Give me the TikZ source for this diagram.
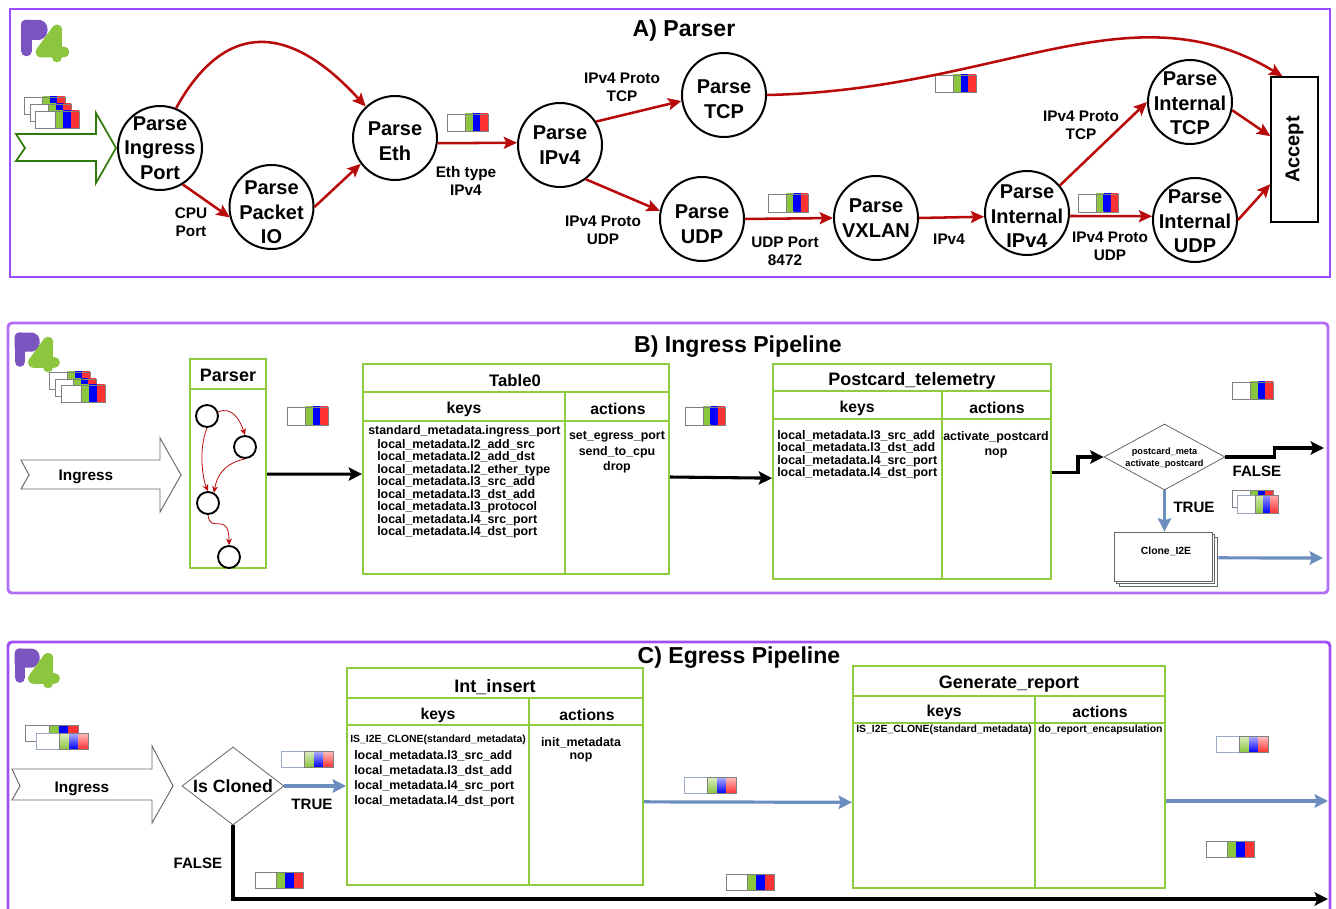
\documentclass[tikz,border=0pt]{standalone}
\usepackage{fontspec}
\setmainfont{Liberation Sans}
\usetikzlibrary{arrows.meta,fit,shapes.geometric,shadows}

\definecolor{panelA}{HTML}{9B4DFF}
\definecolor{panelB}{HTML}{B36EF5}
\definecolor{panelC}{HTML}{A050F5}
\definecolor{tblgreen}{HTML}{8FCB3F}
\definecolor{pktgreen}{HTML}{8CC63F}
\definecolor{pktblue}{HTML}{0000FF}
\definecolor{pktred}{HTML}{FF3333}
\definecolor{pktedge}{HTML}{A8BEE0}
\definecolor{flowred}{HTML}{B80A0A}
\definecolor{flowblue}{HTML}{6C8EBF}
\definecolor{flowgreen}{HTML}{2D7A0A}
\definecolor{logopurple}{HTML}{7A55C0}
\definecolor{logogreen}{HTML}{8CC63F}

\newcommand{\nudge}[1]{\rule{0pt}{#1}}

\tikzset{
 panelbox/.style={line width=2.2pt},
 statecirc/.style={circle,draw=black,line width=1.5pt,fill=white,minimum size=63pt,inner sep=-10pt,align=center,font=\fontsize{15}{18.4}\bfseries\selectfont},
 ministate/.style={circle,draw=black,line width=1.4pt,minimum size=16.5pt,inner sep=0pt},
 redflow/.style={draw=flowred,line width=1.9pt,-{Stealth[length=10pt,width=9pt,inset=2pt]}},
 redthin/.style={draw=flowred,line width=.6pt,-{Stealth[length=5pt,width=4.5pt]}},
 blackflow/.style={draw=black,line width=2.3pt,-{Stealth[length=10pt,width=10pt,inset=2pt]}},
 blueflow/.style={draw=flowblue,line width=2.4pt,-{Stealth[length=10pt,width=10pt,inset=1.5pt]}},
 title/.style={font=\fontsize{17.3}{20}\bfseries\selectfont},
 lbl/.style={align=center,inner sep=0pt,font=\fontsize{11.5}{13.6}\bfseries\selectfont},
 bigflag/.style={inner sep=0pt,font=\fontsize{11.3}{13}\bfseries\selectfont},
 tblbox/.style={draw=tblgreen,line width=1.5pt,inner sep=0pt},
 tblline/.style={draw=tblgreen,line width=1.3pt},
 tblhead/.style={inner sep=0pt,font=\fontsize{13.5}{15}\bfseries\selectfont},
 tblcol/.style={inner sep=0pt,font=\fontsize{11.8}{14}\bfseries\selectfont},
 keytext/.style={anchor=north west,align=left,inner sep=0pt,font=\fontsize{9.3}{9.3}\bfseries\selectfont},
 acttext/.style={anchor=north,align=center,inner sep=0pt,font=\fontsize{9.3}{11.6}\bfseries\selectfont},
 tinytext/.style={inner sep=0pt,font=\fontsize{7.8}{9}\bfseries\selectfont},
 decision/.style={diamond,draw=gray!80!black,line width=.6pt,inner sep=0pt,align=center},
 bigarrow/.style={draw=gray!80!black,line width=.7pt,fill=white},
 pics/pkt/.style n args={3}{code={
  \draw[gray!#3!pktedge,line width=.7pt,fill=white] (0,0) rectangle (#1,#2);
  \shade[top color=pktgreen!#3!white,bottom color=pktgreen] (.45*#1,0) rectangle (.64*#1,#2);
  \shade[top color=pktblue!#3!white,bottom color=pktblue] (.64*#1,0) rectangle (.82*#1,#2);
  \shade[top color=pktred!#3!white,bottom color=pktred] (.82*#1,0) rectangle (#1,#2);
  \draw[black!50,line width=.4pt] (.45*#1,0) rectangle (#1,#2);
 }},
 pics/plogo/.style={code={
  \filldraw[logopurple,line width=6pt,line join=round,line cap=round] (4,4) -- (19,4) .. controls (24,4) and (24,16) .. (18,16) -- (4,16) -- cycle;
  \draw[logopurple,line width=8pt,line cap=round] (5.5,5) -- (5.5,31);
  \draw[logogreen,line width=8pt,line join=round,line cap=round] (36,10) -- (20,32) -- (43,32);
  \draw[logogreen,line width=8pt,line cap=round] (36,10) -- (36,37);
 }}
}

\begin{document}
\begin{tikzpicture}[x=.75pt,y=-.75pt]
 \useasboundingbox (0,0) rectangle (1336,909);

 % A) Parser
 \draw[panelbox,panelA] (10,9) rectangle (1330,277);
 \pic at (21,20) {plogo};
 \node[title] (titleA) at (684,31) {A) Parser};
 \draw[draw=flowgreen,line width=1.3pt,fill=white] (16,134) -- (96,134) -- (96,113) -- (116,148) -- (96,183) -- (96,161) -- (16,161) -- (25,148) -- cycle;
 \foreach \x/\y/\w/\h in {24/97/41/17,30/104/41/17,35/111/44/17,447/114/41/17,935/75/41/17,768/194/40/18,1078/194/40/18}
 {
  \pic at (\x,\y) {pkt={\w}{\h}{100}};
 }

 \node[statecirc] (parseIngress) at (160,148) {Parse\\Ingress\\Port};
 \node[statecirc] (parsePacket) at (271.5,207) {\nudge{18.2pt}Parse\\Packet\\IO};
 \node[statecirc] (parseEth) at (395,138) {\nudge{15.2pt}Parse\\Eth};
 \node[statecirc] (parseIPv) at (560,145) {Parse\\IPv4};
 \node[statecirc] (parseTCP) at (724,95) {\nudge{16.5pt}Parse\\TCP};
 \node[statecirc] (parseUDP) at (702,219) {\nudge{18.2pt}Parse\\UDP};
 \node[statecirc] (parseVXLAN) at (876,218) {Parse\\VXLAN};
 \node[statecirc] (parseInnerIPv) at (1027,213) {\nudge{15.2pt}Parse\\Internal\\IPv4};
 \node[statecirc] (parseInnerTCP) at (1190,102) {\nudge{12.2pt}Parse\\Internal\\TCP};
 \node[statecirc] (parseInnerUDP) at (1195,220) {\nudge{12.2pt}Parse\\Internal\\UDP};
 \node[draw=black,line width=1.3pt,fill=white,minimum width=35pt,minimum height=108.5pt,inner sep=0pt] (accept) at (1294.5,149.5) {\rotatebox{90}{\fontsize{15}{18}\bfseries\selectfont Accept}};

 \draw[redflow] (parseIngress.68) .. controls (222,25) and (285,18) .. (parseEth.133);
 \draw[redflow] (parseIngress.-58) -- (parsePacket.194);
 \draw[redflow] (parsePacket.0) -- (parseEth.217);
 \draw[redflow] (parseEth.-7) -- (parseIPv.177);
 \draw[redflow] (parseIPv.33) -- (parseTCP.188);
 \draw[redflow] (parseIPv.-53) -- (parseUDP.169);
 \draw[redflow] (parseTCP.0) .. controls (1000,90) and (1130,-15) .. ([xshift=-9pt]accept.north);
 \draw[redflow] (parseUDP.0) -- (parseVXLAN.180);
 \draw[redflow] (parseVXLAN.0) -- (parseInnerIPv.185);
 \draw[redflow] (parseInnerIPv.40) -- (parseInnerTCP.180);
 \draw[redflow] (parseInnerIPv.-4) -- (parseInnerUDP.175);
 \draw[redflow] (parseInnerTCP.-11) -- ([yshift=10pt]accept.west);
 \draw[redflow] (parseInnerUDP.0) -- ([yshift=-26pt]accept.west);

 \node[lbl] (lblCPU) at (191,222) {CPU\\Port};
 \node[lbl] (lblEth) at (466,181) {Eth type\\IPv4};
 \node[lbl] (lblTCP) at (622,87) {IPv4 Proto\\TCP};
 \node[lbl] (lblUDP) at (603,230) {IPv4 Proto\\UDP};
 \node[lbl] (lblPort) at (785,251) {UDP Port\\8472};
 \node[lbl] (lblIPv) at (949,239) {IPv4};
 \node[lbl] (lblInnerTCP) at (1081,125) {IPv4 Proto\\TCP};
 \node[lbl] (lblInnerUDP) at (1110,246) {IPv4 Proto\\UDP};

 % B) Ingress Pipeline
 \draw[panelbox,panelB,rounded corners=3pt] (8,323) rectangle (1328,593);
 \pic[scale=.92] at (15,333) {plogo};
 \node[title] (titleB) at (738,347) {B) Ingress Pipeline};
 \draw[bigarrow] (21,460) -- (160,460) -- (160,438) -- (181,475) -- (160,512) -- (160,489) -- (21,489) -- (29,475) -- cycle;
 \node[lbl] (ingressB) at (86,477) {Ingress};
 \foreach \x/\y/\w/\h in {49/372/41/17,55/379/41/17,61/385/44/17,287/407/41/18,685/407/40/18,1232/382/41/17,1232/490/41/17}
 {
  \pic at (\x,\y) {pkt={\w}{\h}{100}};
 }
 \pic at (1237,495) {pkt={41}{18}{40}};

 \node[tblbox,fit={(190,359) (266,568)}] (tblParser) {};
 \draw[tblline] (190,389) -- (266,389);
 \node[inner sep=0pt,font=\fontsize{13.5}{16}\bfseries\selectfont] (headParser) at (228,375) {Parser};
 \node[ministate] (miniA) at (207,416) {};
 \node[ministate] (miniB) at (245,447) {};
 \node[ministate] (miniC) at (208,503) {};
 \node[ministate] (miniD) at (229,557) {};
 \draw[redthin] (miniA.20) .. controls (232,406) and (240,420) .. (miniB.90);
 \draw[redthin] (miniA.-90) .. controls (198,450) and (203,480) .. (miniC.90);
 \draw[redthin] (miniB.-90) .. controls (230,462) and (218,470) .. (miniC.60);
 \draw[redthin] (miniC.-90) .. controls (210,535) and (229,510) .. (miniD.90);

 \node[tblbox,fit={(363,364) (669,574)}] (tblZero) {};
 \draw[tblline] (363,392) -- (669,392);
 \draw[tblline] (363,421) -- (669,421);
 \draw[tblline] (565,392) -- (565,574);
 \node[tblhead,font=\fontsize{12.5}{15}\bfseries\selectfont] (headZero) at (515,381) {Table0};
 \node[tblcol] (keysZero) at (464,409) {keys};
 \node[tblcol] (actsZero) at (618,409) {actions};
 \node[keytext] (keyFirst) at (368,425) {standard\_metadata.ingress\_port};
 \node[keytext,font=\fontsize{9.3}{9.4}\bfseries\selectfont] (keysZeroList) at (377,439) {local\_metadata.l2\_add\_src\\local\_metadata.l2\_add\_dst\\local\_metadata.l2\_ether\_type\\local\_metadata.l3\_src\_add\\local\_metadata.l3\_dst\_add\\local\_metadata.l3\_protocol\\local\_metadata.l4\_src\_port\\local\_metadata.l4\_dst\_port};
 \node[acttext] (actsZeroList) at (617,431.5) {set\_egress\_port\\send\_to\_cpu\\drop};

 \node[tblbox,fit={(773,364) (1051,579)}] (tblPostcard) {};
 \draw[tblline] (773,391) -- (1051,391);
 \draw[tblline] (773,419) -- (1051,419);
 \draw[tblline] (942,391) -- (942,579);
 \node[tblhead] (headPostcard) at (912,381) {Postcard\_telemetry};
 \node[tblcol] (keysPostcard) at (857,408) {keys};
 \node[tblcol] (actsPostcard) at (997,408) {actions};
 \node[keytext,font=\fontsize{9.3}{9.3}\bfseries\selectfont] (keysPostcardList) at (777,430) {local\_metadata.l3\_src\_add\\local\_metadata.l3\_dst\_add\\local\_metadata.l4\_src\_port\\local\_metadata.l4\_dst\_port};
 \node[acttext] (actsPostcardList) at (996,431) {activate\_postcard\\nop};

 \node[decision,aspect=1.83,minimum width=90.75pt,minimum height=49.5pt] (diaPostcard) at (1164.5,457) {};
 \node[align=center,inner sep=0pt,font=\fontsize{6.9}{9}\bfseries\selectfont] (lblPostcard) at (1164.5,458) {postcard\_meta\\activate\_postcard};
 \node[draw=gray!80!black,line width=.6pt,fill=white,double copy shadow={shadow xshift=1.9pt,shadow yshift=-1.9pt,draw=gray!80!black,fill=white},fit={(1114,532) (1212,581)},inner sep=0pt] (boxClone) {};
 \node[inner sep=0pt,font=\fontsize{7.8}{9}\bfseries\selectfont] (lblClone) at (1166,551) {Clone\_I2E};
 \coordinate (falseEnd) at (1324,448);
 \coordinate (cloneEnd) at (1323,558);

 \draw[blackflow] ([yshift=-8pt]tblParser.east) -- ([yshift=-3.8pt]tblZero.west);
 \draw[blackflow] ([yshift=-6pt]tblZero.east) -- ([yshift=-5pt]tblPostcard.west);
 \draw[blackflow] ([yshift=-1pt]tblPostcard.east) -- ++(26,0) |- (diaPostcard.west);
 \draw[blackflow] (diaPostcard.east) -- ++(49,0) |- (falseEnd);
 \draw[blueflow] (diaPostcard.south) -- (boxClone.north -| diaPostcard.south);
 \draw[blueflow] ([xshift=4.5pt,yshift=-1pt]boxClone.east) -- (cloneEnd);
 \node[bigflag] (flagFalseB) at (1257,471) {FALSE};
 \node[bigflag] (flagTrueB) at (1194,507) {TRUE};

 % C) Egress Pipeline
 \draw[panelbox,panelC,rounded corners=3pt] (8,909) -- (8,642) -- (1330,642) -- (1330,909);
 \pic[scale=.92] at (15,649) {plogo};
 \node[title] (titleC) at (739,658) {C) Egress Pipeline};
 \draw[bigarrow] (12,769) -- (152,769) -- (152,746) -- (173,786) -- (152,823) -- (152,800) -- (12,800) -- (20,786) -- cycle;
 \node[lbl] (ingressC) at (82,789) {Ingress};
 \pic at (25,725) {pkt={53}{16}{100}};
 \pic at (36,733) {pkt={52}{16}{30}};
 \foreach \x/\y in {281/751,684/777,1216/736}
 {
  \pic at (\x,\y) {pkt={52}{16}{30}};
 }
 \foreach \x/\y in {255/872,726/874,1206/841}
 {
  \pic at (\x,\y) {pkt={48}{16}{100}};
 }

 \node[decision,aspect=1.3,minimum width=76.5pt,minimum height=58.5pt,font=\fontsize{13.3}{16}\bfseries\selectfont] (diaCloned) at (233,786) {Is Cloned};

 \node[tblbox,fit={(347,668) (643,885)}] (tblInsert) {};
 \draw[tblline] (347,698) -- (643,698);
 \draw[tblline] (347,725) -- (643,725);
 \draw[tblline] (529,698) -- (529,885);
 \node[tblhead] (headInsert) at (495,687) {Int\_insert};
 \node[tblcol] (keysInsert) at (438,715) {keys};
 \node[tblcol] (actsInsert) at (587,715) {actions};
 \node[tinytext,anchor=west] (keyClone) at (350,740) {IS\_I2E\_CLONE(standard\_metadata)};
 \node[keytext,font=\fontsize{9.3}{11.2}\bfseries\selectfont] (keysInsertList) at (354,750) {local\_metadata.l3\_src\_add\\local\_metadata.l3\_dst\_add\\local\_metadata.l4\_src\_port\\local\_metadata.l4\_dst\_port};
 \node[acttext,font=\fontsize{9.3}{9.8}\bfseries\selectfont] (actsInsertList) at (581,737) {init\_metadata\\nop};

 \node[tblbox,fit={(853,666) (1165,888)}] (tblReport) {};
 \draw[tblline] (853,696) -- (1165,696);
 \draw[tblline] (853,723) -- (1165,723);
 \draw[tblline] (1035,696) -- (1035,888);
 \node[tblhead] (headReport) at (1009,684) {Generate\_report};
 \node[tblcol] (keysReport) at (944,712) {keys};
 \node[tblcol] (actsReport) at (1100,712) {actions};
 \node[tinytext,anchor=west] (keyReport) at (856,730) {IS\_I2E\_CLONE(standard\_metadata)};
 \node[tinytext,anchor=west] (actReport) at (1038,730) {do\_report\_encapsulation};
 \coordinate (egressEnd) at (1328,801);
 \coordinate (falseOut) at (1328,899);

 \draw[blueflow] (diaCloned.east) -- (tblInsert.west |- diaCloned.east);
 \draw[blueflow] ([yshift=-19pt]tblInsert.east) -- ([yshift=-19pt]tblReport.west);
 \draw[blueflow] ([yshift=-18pt]tblReport.east) -- (egressEnd);
 \draw[blackflow] (diaCloned.south) |- (falseOut);
 \node[bigflag] (flagTrueC) at (312,804) {TRUE};
 \node[bigflag] (flagFalseC) at (198,863) {FALSE};

\end{tikzpicture}
\end{document}
